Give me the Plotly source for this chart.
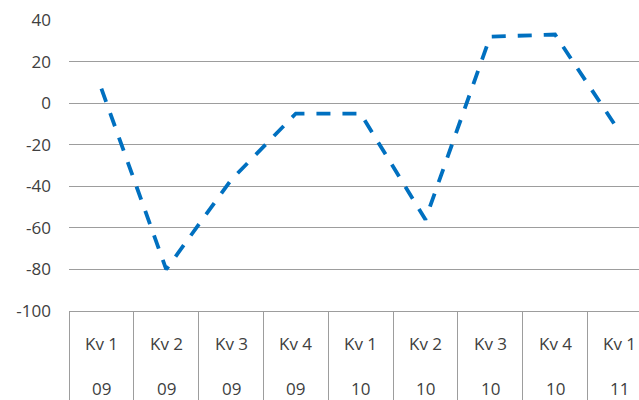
import plotly.graph_objects as go

# Quarterly series
quarters = ["Kv 1", "Kv 2", "Kv 3", "Kv 4", "Kv 1", "Kv 2", "Kv 3", "Kv 4", "Kv 1"]
years = ["09", "09", "09", "09", "10", "10", "10", "10", "11"]
values = [7, -80, -37, -5, -5, -56, 32, 33, -14]

# Y axis ticks (plain hyphen for negatives)
y_ticks = [40, 20, 0, -20, -40, -60, -80, -100]
y_tick_text = [str(v) for v in y_ticks]

categories = [f"{q} {y}" for q, y in zip(quarters, years)]

GRID = "#9d9d9d"
TEXT = "#404040"
FONT = "Open Sans"

fig = go.Figure()
fig.add_trace(go.Scatter(
    x=categories,
    y=values,
    mode="lines",
    line=dict(color="#0070C0", width=3.8, dash="14px,12px"),
    hoverinfo="skip",
    showlegend=False,
))

# Two-row category labels under each quarter
annotations = []
for cat, q, y in zip(categories, quarters, years):
    annotations.append(dict(x=cat, xref="x", y=0, yref="paper", text=q,
                            showarrow=False, yanchor="middle", yshift=-32,
                            font=dict(family=FONT, size=17, color=TEXT)))
    annotations.append(dict(x=cat, xref="x", y=0, yref="paper", text=y,
                            showarrow=False, yanchor="middle", yshift=-77,
                            font=dict(family=FONT, size=17, color=TEXT)))

fig.update_layout(
    width=639,
    height=400,
    margin=dict(l=69, r=0, t=20, b=89),
    paper_bgcolor="white",
    plot_bgcolor="white",
    font=dict(family=FONT, size=17, color=TEXT),
    annotations=annotations,
    xaxis=dict(
        type="category",
        categoryorder="array",
        categoryarray=categories,
        range=[-0.5, 8.296],
        automargin=False,
        showgrid=False,
        zeroline=False,
        showline=True,
        linecolor=GRID,
        linewidth=1,
        ticks="outside",
        tickson="boundaries",
        ticklen=95,
        tickwidth=1,
        tickcolor=GRID,
        showticklabels=False,
    ),
    yaxis=dict(
        range=[-100, 40],
        tickmode="array",
        tickvals=y_ticks,
        ticktext=y_tick_text,
        automargin=False,
        showgrid=True,
        gridcolor=GRID,
        gridwidth=1,
        zeroline=False,
        showline=False,
        ticks="",
        ticklabelstandoff=17,
        tickfont=dict(family=FONT, size=17, color=TEXT),
    ),
)

fig.write_html("out.html")
